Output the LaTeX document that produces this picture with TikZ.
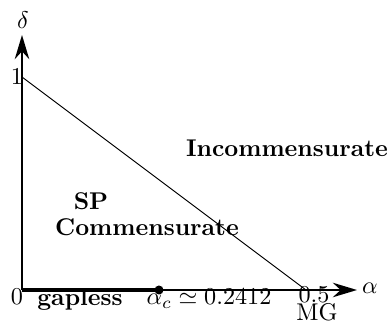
\documentclass[tikz,border=0pt]{standalone}
\usetikzlibrary{arrows.meta}
\begin{document}
\begin{tikzpicture}[x=0.4133pt,y=-0.4133pt,
  axis/.style={line width=0.8pt,-{Stealth[length=10pt,width=6pt]}},
  lbl/.style={inner sep=0pt},
  region/.style={inner sep=0pt,font=\bfseries}]
\useasboundingbox (0,0) rectangle (391,324);
\coordinate (O) at (22,290);
\coordinate (Yend) at (22,35);
\coordinate (Xend) at (357,290);
\coordinate (D1) at (22,77);
\coordinate (H) at (306,290);
\coordinate (AC) at (159,290);
\draw[axis] (O) -- (Yend);
\draw[axis] (O) -- (Xend);
\draw[line width=0.4pt] (D1) -- (H);
\draw[line width=1.7pt] (O) -- (AC);
\fill (AC) circle (4.5);
\node[lbl] (delta) at (23,20) {$\delta$};
\node[lbl] (one) at (17,76) {1};
\node[lbl] (zero) at (17,297) {0};
\node[lbl] (alpha) at (370,288) {$\alpha$};
\node[lbl] (half) at (314,295) {0.5};
\node[lbl] (mg) at (317,312) {MG};
\node[region] (gap) at (80,300) {gapless};
\node[lbl] (acl) at (209,299) {$\alpha_c\simeq 0.2412$};
\node[region] (inc) at (287,148) {Incommensurate};
\node[region] (sp) at (91,201) {SP};
\node[region] (com) at (147,227) {Commensurate};
\end{tikzpicture}
\end{document}
